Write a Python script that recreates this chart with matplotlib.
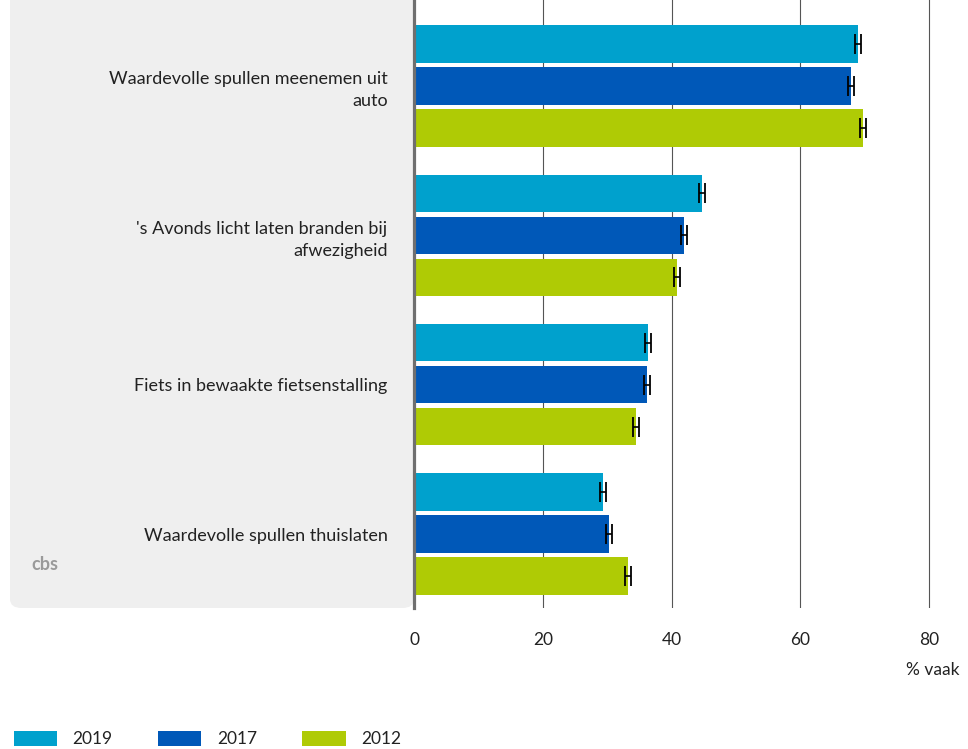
import matplotlib.pyplot as plt
from matplotlib.patches import FancyBboxPatch, Patch

plt.rcParams['font.family'] = ['Lato', 'DejaVu Sans']

# data
categories = ["Waardevolle spullen meenemen uit\nauto",
              "'s Avonds licht laten branden bij\nafwezigheid",
              "Fiets in bewaakte fietsenstalling",
              "Waardevolle spullen thuislaten"]
years = ["2019", "2017", "2012"]
v2019 = [69.0, 44.7, 36.3, 29.4]
v2017 = [67.9, 41.9, 36.2, 30.3]
v2012 = [69.7, 40.9, 34.5, 33.2]
err2019 = [0.45, 0.45, 0.45, 0.45]
err2017 = [0.45, 0.45, 0.45, 0.45]
err2012 = [0.45, 0.45, 0.45, 0.45]
ticks = [0, 20, 40, 60, 80]

colors = ["#00a1cd", "#0058b8", "#afcb05"]
W, H = 968, 749

fig = plt.figure(figsize=(W / 100, H / 100), dpi=100)

# grey panel behind labels
panel = FancyBboxPatch((10 / W, 1 - 608 / H), (414 - 10) / W, 700 / H,
                       boxstyle="round,pad=0,rounding_size=0.012",
                       transform=fig.transFigure, facecolor="#efefef",
                       edgecolor="none", zorder=0)
fig.patches.append(panel)

ax = fig.add_axes([414 / W, 1 - 608 / H, (960 - 414) / W, 608 / H])
ax.set_zorder(2)
ax.set_facecolor("none")

off = 0.281
h = 0.25
series = [(v2019, err2019), (v2017, err2017), (v2012, err2012)]
for k, (vals, errs) in enumerate(series):
    ys = [i + (k - 1) * off for i in range(len(categories))]
    ax.barh(ys, vals, height=h, color=colors[k], zorder=2)
    ax.errorbar(vals, ys, xerr=errs, fmt="none", ecolor="black",
                elinewidth=1.2, capsize=7.5, capthick=1.3, zorder=3)

ax.set_xlim(0, (960 - 414) / 6.4375)
ax.set_ylim(3.495, -0.575)
ax.set_xticks(ticks)
ax.set_xticklabels([str(t) for t in ticks])
ax.set_yticks(range(len(categories)))
ax.set_yticklabels(categories, fontsize=13, color="#222222", linespacing=1.45)
ax.tick_params(axis="y", length=0, pad=19)
ax.tick_params(axis="x", length=0, pad=17, labelsize=12.5, labelcolor="#222222")
ax.grid(axis="x", color="#555555", linewidth=0.8, zorder=1)
for s in ["top", "right", "bottom"]:
    ax.spines[s].set_visible(False)
ax.spines["left"].set_color("#6f6f6f")
ax.spines["left"].set_linewidth(2.3)
ax.spines["left"].set_zorder(4)

fig.text(960 / W, 1 - 670 / H, "% vaak", ha="right", va="center",
         fontsize=12.5, color="#222222")

# cbs logo-like mark
fig.text(45 / W, 1 - 565 / H, "cbs", ha="center", va="center", fontsize=13,
         color="#9a9a9a", fontweight="bold")

handles = [Patch(facecolor=c, edgecolor="none") for c in colors]
fig.legend(handles, years, loc="lower left", bbox_to_anchor=(-2 / W, -14 / H),
           ncol=3, frameon=False, fontsize=12.5, handlelength=2.5,
           handleheight=1.0, handletextpad=0.9, columnspacing=2.6,
           labelcolor="#222222")

fig.savefig("out.png", dpi=100)
